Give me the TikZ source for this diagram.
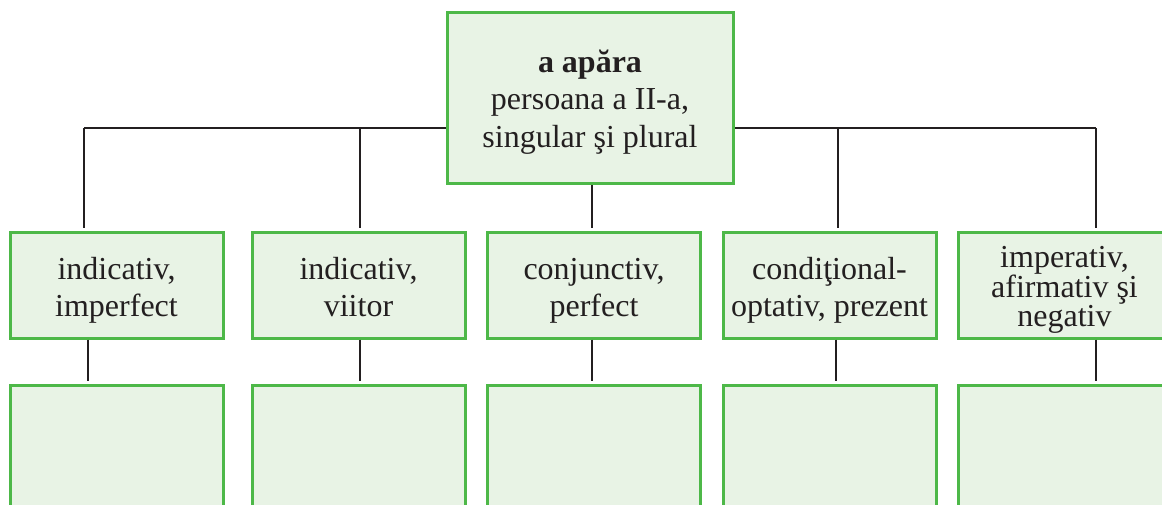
\documentclass[tikz,border=0pt]{standalone}
\usepackage{fontspec}
\setmainfont{Liberation Serif}
\definecolor{boxfill}{HTML}{E8F3E5}
\definecolor{boxline}{HTML}{4DB848}
\definecolor{ink}{HTML}{231F20}
\newcommand\myLift[1]{\rule{0pt}{#1}}
\newcommand\myDrop{\rule[-7pt]{0pt}{7pt}}
\tikzset{
  box/.style={draw=boxline, fill=boxfill, line width=3pt, inner sep=0pt,
    align=center, text=ink, font=\fontsize{32}{37.5}\selectfont},
  midbox/.style={box, minimum width=213pt, minimum height=105pt},
  lowbox/.style={box, minimum width=213pt, minimum height=240pt},
  conn/.style={draw=ink, line width=2pt, shorten >=3pt}
}
\begin{document}
\begin{tikzpicture}[x=1pt,y=-1pt]
\useasboundingbox (0,0) rectangle (1162,505);
\clip (0,0) rectangle (1162,505);
\coordinate (bL) at (84,128);
\coordinate (bR) at (1096,128);
% bus line drawn under the boxes
\draw[ink, line width=2pt] (bL) -- (bR);
\node[box, minimum width=286pt, minimum height=171pt] (top) at (590,98.5)
  {\myLift{30pt}\textbf{a apăra}\\persoana a II-a,\\singular şi plural\myDrop};
\node[midbox] (b1) at (116.5,285.5) {\myLift{32pt}indicativ,\\imperfect\myDrop};
\node[midbox] (b2) at (358.5,285.5) {\myLift{32pt}indicativ,\\viitor\myDrop};
\node[midbox] (b3) at (594,285.5) {\myLift{32pt}conjunctiv,\\perfect\myDrop};
\node[midbox] (b4) at (829.5,285.5) {\myLift{32pt}condiţional-\\optativ, prezent\myDrop};
\node[midbox, font=\fontsize{32}{25}\selectfont] (b5) at (1064.5,285.5)
  {\myLift{30pt}imperativ,\\afirmativ şi\\negativ\myDrop};
\node[lowbox] (c1) at (116.5,505) {};
\node[lowbox] (c2) at (358.5,505) {};
\node[lowbox] (c3) at (594,505) {};
\node[lowbox] (c4) at (829.5,505) {};
\node[lowbox] (c5) at (1064.5,505) {};
% bus to second row
\draw[conn] (bL) -- (bL |- b1.north);
\draw[conn] (bL -| b2.north) ++(1.5,0) -- ([xshift=1.5pt]b2.north);
\draw[conn] ([xshift=-2pt]b3.north |- top.south) -- ([xshift=-2pt]b3.north);
\draw[conn] (bL -| b4.north) ++(8.5,0) -- ([xshift=8.5pt]b4.north);
\draw[conn] (bR) -- (bR |- b5.north);
% second row to third row
\draw[conn] ([xshift=-28.5pt]b1.south) -- ([xshift=-28.5pt]c1.north);
\draw[conn] ([xshift=1.5pt]b2.south) -- ([xshift=1.5pt]c2.north);
\draw[conn] ([xshift=-2pt]b3.south) -- ([xshift=-2pt]c3.north);
\draw[conn] ([xshift=6.5pt]b4.south) -- ([xshift=6.5pt]c4.north);
\draw[conn] ([xshift=31.5pt]b5.south) -- ([xshift=31.5pt]c5.north);
\end{tikzpicture}
\end{document}
